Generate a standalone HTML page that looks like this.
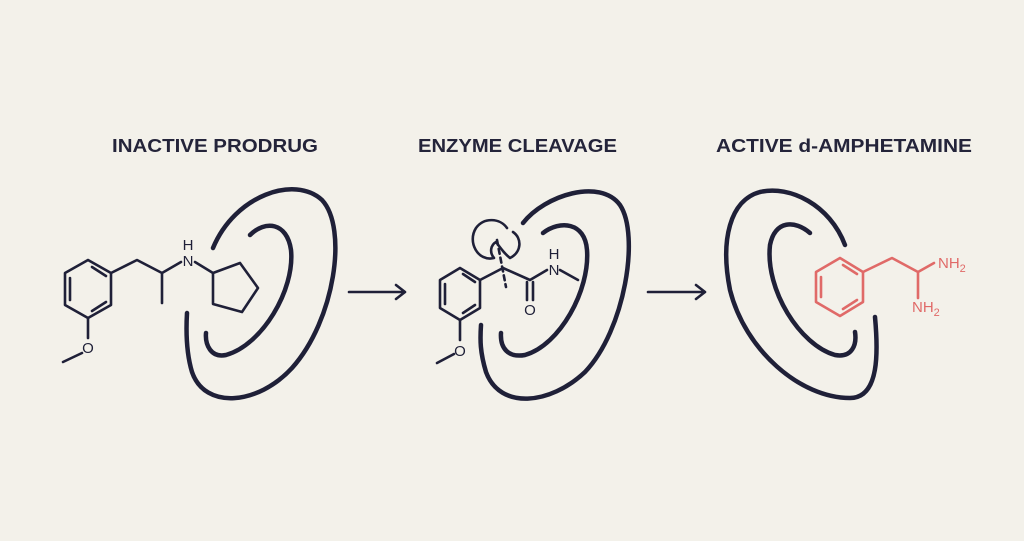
<!DOCTYPE html>
<html><head><meta charset="utf-8"><style>
html,body{margin:0;padding:0;background:#f3f1ea;}
svg{display:block}
</style></head><body>
<svg width="1024" height="541" viewBox="0 0 1024 541" xmlns="http://www.w3.org/2000/svg">
<rect width="1024" height="541" fill="#f3f1ea"/>
<g font-family="Liberation Sans, sans-serif" font-weight="bold" font-size="18" fill="#24243a">
<text x="112" y="152" textLength="206" lengthAdjust="spacingAndGlyphs">INACTIVE PRODRUG</text>
<text x="418" y="152" textLength="199" lengthAdjust="spacingAndGlyphs">ENZYME CLEAVAGE</text>
<text x="716" y="152" textLength="256" lengthAdjust="spacingAndGlyphs">ACTIVE d-AMPHETAMINE</text>
</g>
<g fill="none" stroke="#1f2038" stroke-width="4.5" stroke-linecap="round">
<path d="M213,248 C235,195 295,175 322,200 C348,228 335,320 292,368 C258,405 205,410 192,372 C186,352 186,330 187,313"/>
<path d="M250,235 C265,220 287,222 291,250 C295,290 262,345 226,355 C211,358 205,345 206,333"/>
<path d="M523,223 C545,195 600,178 620,205 C640,235 625,330 585,372 C550,405 500,410 486,372 C480,352 480,340 481,325"/>
<path d="M543,233 C560,220 585,222 587,250 C590,290 560,345 525,355 C508,358 500,348 501,333"/>
<path d="M845,245 C830,205 790,185 760,192 C730,200 720,240 730,290 C745,350 800,398 850,398 C880,398 878,350 875,317"/>
<path d="M810,233 C795,220 775,220 770,245 C765,290 800,345 835,355 C852,358 857,345 855,332"/>
</g>
<g fill="none" stroke="#1f2038" stroke-width="2.6" stroke-linejoin="round" stroke-linecap="round">
<path d="M88,260 L111,273 L111,305 L88,318 L65,305 L65,273 Z"/>
<path d="M92,267 L106,276 M106,302 L92,311 M70,278 L70,300"/>
<path d="M111,273 L137,260 L162,273 L162,303 M162,273 L181,262 M195,262 L213,273"/>
<path d="M213,273 L240,263 L258,288 L242,312 L213,304 Z"/>
<path d="M88,318 L88,338 M82,353 L63,362"/>
<path d="M460,268 L480,280 L480,308 L460,320 L440,308 L440,280 Z"/>
<path d="M463,274 L475,282 M475,305 L463,313 M445,284 L445,304"/>
<path d="M480,280 L503,268 L530,280 L547,270 M560,270 L578,280 M527,282 L527,300 M533,282 L533,300 M460,320 L460,340 M454,354 L437,363"/>
<path d="M497,240 L506,287" stroke-dasharray="5,4"/>
<path d="M507,228 C500,218 484,217 476,228 C467,242 478,262 494,258 C489,252 491,245 496,242 C502,250 505,254 510,258 C522,252 522,238 513,232"/>
<path d="M349,292 L405,292 M396,285 L405,292 L396,299"/>
<path d="M648,292 L705,292 M696,285 L705,292 L696,299"/>
</g>
<g font-family="Liberation Sans, sans-serif" font-size="15" fill="#1f2038" text-anchor="middle">
<text x="188" y="266">N</text><text x="188" y="250">H</text>
<text x="88" y="353">O</text>
<text x="554" y="275">N</text><text x="554" y="259">H</text>
<text x="530" y="315">O</text>
<text x="460" y="356">O</text>
</g>
<g fill="none" stroke="#e06a68" stroke-width="2.6" stroke-linejoin="round" stroke-linecap="round">
<path d="M840,258 L863,272 L863,302 L840,316 L816,302 L816,272 Z"/>
<path d="M843,265 L857,274 M857,300 L843,309 M821,277 L821,297"/>
<path d="M863,272 L892,258 L918,272 L934,263 M918,272 L918,298"/>
</g>
<g font-family="Liberation Sans, sans-serif" font-size="15" fill="#e06a68">
<text x="938" y="268">NH<tspan font-size="11" dy="4">2</tspan></text>
<text x="912" y="312">NH<tspan font-size="11" dy="4">2</tspan></text>
</g>
</svg>
</body></html>
